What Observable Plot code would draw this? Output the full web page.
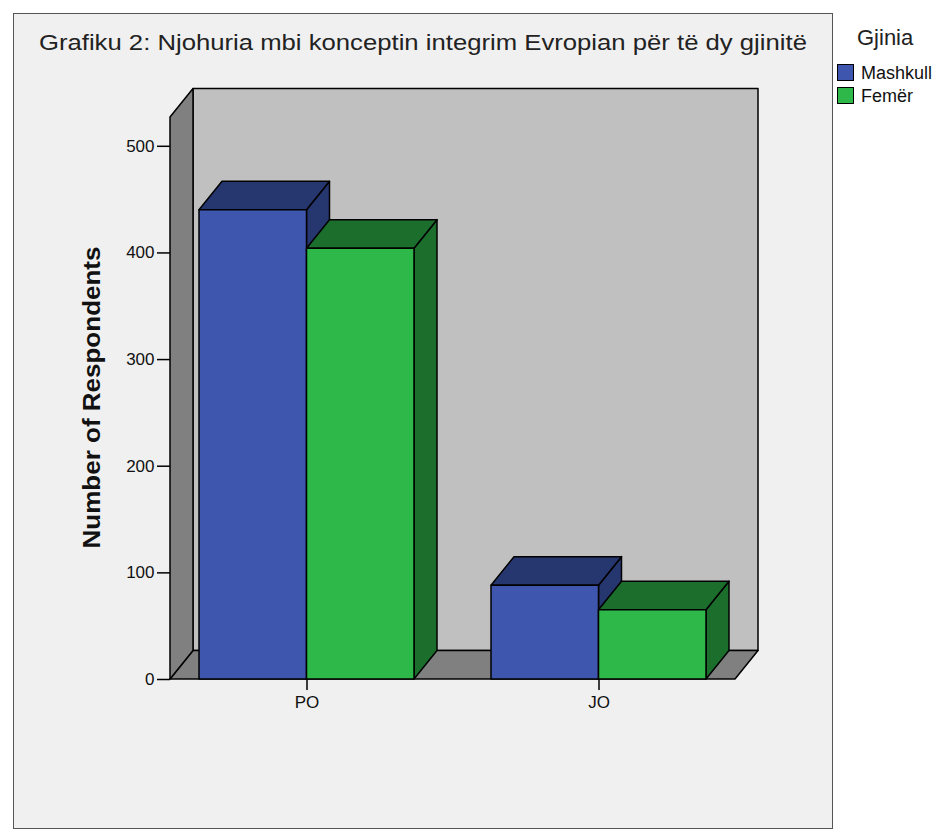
<!DOCTYPE html>
<html>
<head>
<meta charset="utf-8">
<script src="https://cdn.jsdelivr.net/npm/d3@7"></script>
<script src="https://cdn.jsdelivr.net/npm/@observablehq/plot@0.6"></script>
<style>
  html, body { margin: 0; padding: 0; background: #ffffff; }
  body { font-family: Arial, "Liberation Sans", sans-serif; }
  #wrap { position: relative; width: 938px; height: 831px; overflow: hidden; }
  #frame { position: absolute; left: 13px; top: 13px; width: 820px; height: 816px;
           background: #f0f0f0; border: 1.5px solid #555; box-sizing: border-box; }
  #chart { position: absolute; left: 0; top: 0; }
  #title { position: absolute; left: 13px; top: 32px; width: 820px; text-align: center;
           font-size: 22px; line-height: 22px; color: #222; white-space: nowrap; }
  #title span { display: inline-block; transform-origin: center; }
  #legend-title { position: absolute; left: 857px; top: 27px; font-size: 22px; line-height: 22px; color: #222; }
  .leg-item { position: absolute; left: 837px; height: 18px; font-size: 18px; line-height: 18px; color: #111; white-space: nowrap; }
  .leg-item i { position: absolute; left: 0; top: 0; width: 15px; height: 15px; border: 1px solid #000; }
  .leg-item span { position: absolute; left: 24px; top: 0; }
</style>
</head>
<body>
<div id="wrap">
  <div id="frame"></div>
  <div id="chart"></div>
  <div id="title"><span></span></div>
  <div id="legend-title"></div>
  <div id="legend"></div>
</div>
<script>
// ---- data ----
const chartTitle = "Grafiku 2: Njohuria mbi konceptin integrim Evropian për të dy gjinitë";
const legendTitle = "Gjinia";
const yLabel = "Number of Respondents";
const categories = ["PO", "JO"];
const genders = ["Mashkull", "Femër"];
const mashkullValues = [440, 88];
const femerValues = [404, 65];
const yTicks = [0, 100, 200, 300, 400, 500];
const yAxisMax = 527;
const frontColors = ["#3f56ae", "#2eb84a"];
const shadeColors = ["#26366f", "#1c6e2d"];

const seriesValues = [mashkullValues, femerValues];
const rows = categories.flatMap((c, i) =>
  genders.map((g, j) => ({category: c, gender: g, gi: j, value: seriesValues[j][i]})));

// ---- 3D depth (pixel styling) ----
const DX = 23, DY = 28.5;
const pts = (a) => a.map(p => p.join(",")).join(" ");

function wallsMark(index, scales, values, dims) {
  const x0 = dims.marginLeft, x1 = dims.width - dims.marginRight;
  const yb = scales.y(0), yt = scales.y(yAxisMax);
  const g = d3.create("svg:g").attr("stroke", "#000").attr("stroke-width", 1.5).attr("stroke-linejoin", "round");
  g.append("polygon").attr("fill", "#c0c0c0")
    .attr("points", pts([[x0 + DX, yt - DY], [x1 + DX, yt - DY], [x1 + DX, yb - DY], [x0 + DX, yb - DY]]));
  g.append("polygon").attr("fill", "#808080")
    .attr("points", pts([[x0, yb], [x1, yb], [x1 + DX, yb - DY], [x0 + DX, yb - DY]]));
  g.append("polygon").attr("fill", "#808080")
    .attr("points", pts([[x0, yb], [x0, yt], [x0 + DX, yt - DY], [x0 + DX, yb - DY]]));
  return g.node();
}

function barsMark(index, scales) {
  const x = scales.x;
  const bw = typeof x.bandwidth === "function" ? x.bandwidth() : scales.scales.x.bandwidth;
  const sub = bw / genders.length;
  const y0 = scales.y(0);
  const g = d3.create("svg:g").attr("stroke", "#000").attr("stroke-width", 1.5).attr("stroke-linejoin", "round");
  for (const r of rows) {
    const xl = x(r.category) + r.gi * sub, xr = xl + sub;
    const yv = scales.y(r.value);
    g.append("polygon").attr("fill", shadeColors[r.gi])
      .attr("points", pts([[xr, y0], [xr, yv], [xr + DX, yv - DY], [xr + DX, y0 - DY]]));
    g.append("polygon").attr("fill", shadeColors[r.gi])
      .attr("points", pts([[xl, yv], [xr, yv], [xr + DX, yv - DY], [xl + DX, yv - DY]]));
    g.append("rect").attr("fill", frontColors[r.gi])
      .attr("x", xl).attr("y", yv).attr("width", sub).attr("height", y0 - yv);
  }
  return g.node();
}

const chart = Plot.plot({
  width: 938,
  height: 831,
  marginLeft: 170,
  marginRight: 203,
  marginTop: 117,
  marginBottom: 152,
  style: {background: "transparent", fontFamily: "Arial, 'Liberation Sans', sans-serif", color: "#111", overflow: "visible"},
  x: {type: "band", domain: categories, paddingInner: 0.263, paddingOuter: 0.097},
  y: {domain: [0, yAxisMax]},
  marks: [
    wallsMark,
    barsMark,
    Plot.axisY(yTicks, {tickSize: 13, tickPadding: 3, fontSize: 17, label: null, stroke: "#000", strokeWidth: 1.5}),
    Plot.axisX(categories, {tickSize: 11, tickPadding: 5, fontSize: 17, label: null, stroke: "#000", strokeWidth: 1.5}),
    Plot.text([yLabel], {frameAnchor: "left", textAnchor: "middle", lineAnchor: "middle", dx: -78, dy: -1, rotate: -90, fontSize: 24, fontWeight: "bold", fill: "#111"})
  ]
});
document.getElementById("chart").appendChild(chart);

// stretch axis title to reference length
d3.select(chart).selectAll("text").filter(function() { return this.textContent === yLabel; })
  .attr("textLength", 302).attr("lengthAdjust", "spacingAndGlyphs");

// title
const tspan = document.querySelector("#title span");
tspan.textContent = chartTitle;
const tw = tspan.getBoundingClientRect().width;
tspan.style.transform = `scaleX(${768 / tw})`;

// legend
document.getElementById("legend-title").textContent = legendTitle;
const legend = document.getElementById("legend");
genders.forEach((g, j) => {
  const item = document.createElement("div");
  item.className = "leg-item";
  item.style.top = (64 + j * 23) + "px";
  item.innerHTML = `<i style="background:${frontColors[j]}"></i><span>${g}</span>`;
  legend.appendChild(item);
});
</script>
</body>
</html>
